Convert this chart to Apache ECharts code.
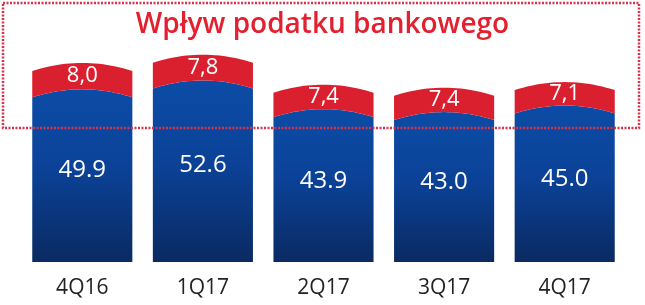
<!DOCTYPE html>
<html>
<head>
<meta charset="utf-8">
<script src="https://cdn.jsdelivr.net/npm/echarts@6/dist/echarts.min.js"></script>
<style>
  html, body { margin: 0; padding: 0; background: #fff; }
  #chart { width: 645px; height: 305px; }
</style>
</head>
<body>
<div id="chart"></div>
<script>
const categories = ['4Q16', '1Q17', '2Q17', '3Q17', '4Q17'];
const baseValues = [49.9, 52.6, 43.9, 43.0, 45.0];
const taxValues = [8.0, 7.8, 7.4, 7.4, 7.1];

const ARCH = 8;        // px rise of the rounded bar top
const BAR_RATIO = 0.83;
const STEPS = 24;

let chart = echarts.init(document.getElementById('chart'));

// points along an arched top, from left to right
function archPoints(left, width, edgeY) {
  let pts = [];
  for (let i = 0; i <= STEPS; i++) {
    let t = i / STEPS;
    let k = 2 * t - 1;
    pts.push([left + t * width, edgeY - ARCH * (1 - k * k)]);
  }
  return pts;
}

function renderBase(params, api) {
  let idx = api.value(0);
  let val = api.value(1);
  let bottom = api.coord([idx, 0]);
  let top = api.coord([idx, val]);
  let w = api.size([1, 0])[0] * BAR_RATIO;
  let left = bottom[0] - w / 2;
  let pts = [[left, bottom[1]]].concat(archPoints(left, w, top[1]), [[left + w, bottom[1]]]);
  let labelPos = api.coord([idx, val * 0.56]);
  return {
    type: 'group',
    children: [{
      type: 'polygon',
      shape: { points: pts },
      style: {
        fill: new echarts.graphic.LinearGradient(0, 0, 0, 1, [
          { offset: 0, color: '#0c4ca6' },
          { offset: 0.45, color: '#0b4298' },
          { offset: 1, color: '#0a2a62' }
        ])
      }
    }, {
      type: 'text',
      x: labelPos[0],
      y: labelPos[1],
      style: {
        text: val.toFixed(1),
        fill: '#fff',
        fontSize: 24,
        fontFamily: 'Open Sans',
        align: 'center',
        verticalAlign: 'middle'
      }
    }]
  };
}

function renderTax(params, api) {
  let idx = api.value(0);
  let base = api.value(1);
  let val = api.value(2);
  let low = api.coord([idx, base]);
  let high = api.coord([idx, base + val]);
  let w = api.size([1, 0])[0] * BAR_RATIO;
  let left = low[0] - w / 2;
  let pts = archPoints(left, w, high[1]).concat(archPoints(left, w, low[1]).reverse());
  return {
    type: 'group',
    children: [{
      type: 'polygon',
      shape: { points: pts },
      style: { fill: '#da1f2f' }
    }, {
      type: 'text',
      x: low[0],
      y: (low[1] + high[1]) / 2 - ARCH,
      style: {
        text: val.toFixed(1).replace('.', ','),
        fill: '#fff',
        fontSize: 22,
        fontFamily: 'Open Sans',
        align: 'center',
        verticalAlign: 'middle'
      }
    }]
  };
}

let option = {
  animation: false,
  title: {
    text: 'Wpływ podatku bankowego',
    left: 'center',
    top: 6,
    textStyle: {
      color: '#e3202f',
      fontSize: 28,
      fontWeight: 600,
      fontFamily: 'Open Sans'
    }
  },
  grid: {
    left: 22,
    right: 20,
    top: 31,
    bottom: 43
  },
  xAxis: {
    type: 'category',
    data: categories,
    axisLine: { show: false },
    axisTick: { show: false },
    axisLabel: {
      color: '#222',
      fontSize: 21,
      fontFamily: 'Open Sans',
      margin: 16
    }
  },
  yAxis: {
    type: 'value',
    min: 0,
    max: 70,
    show: false,
    splitLine: { show: false }
  },
  series: [{
    name: 'base',
    type: 'custom',
    renderItem: renderBase,
    data: baseValues.map((v, i) => [i, v]),
    z: 2
  }, {
    name: 'tax',
    type: 'custom',
    renderItem: renderTax,
    data: taxValues.map((v, i) => [i, baseValues[i], v]),
    z: 3
  }],
  graphic: [{
    type: 'rect',
    z: 100,
    shape: { x: 3, y: 3, width: 636, height: 125 },
    style: {
      fill: 'none',
      stroke: '#d8334a',
      lineWidth: 2.5,
      lineDash: [2, 1.5]
    }
  }]
};
chart.setOption(option);
</script>
</body>
</html>
